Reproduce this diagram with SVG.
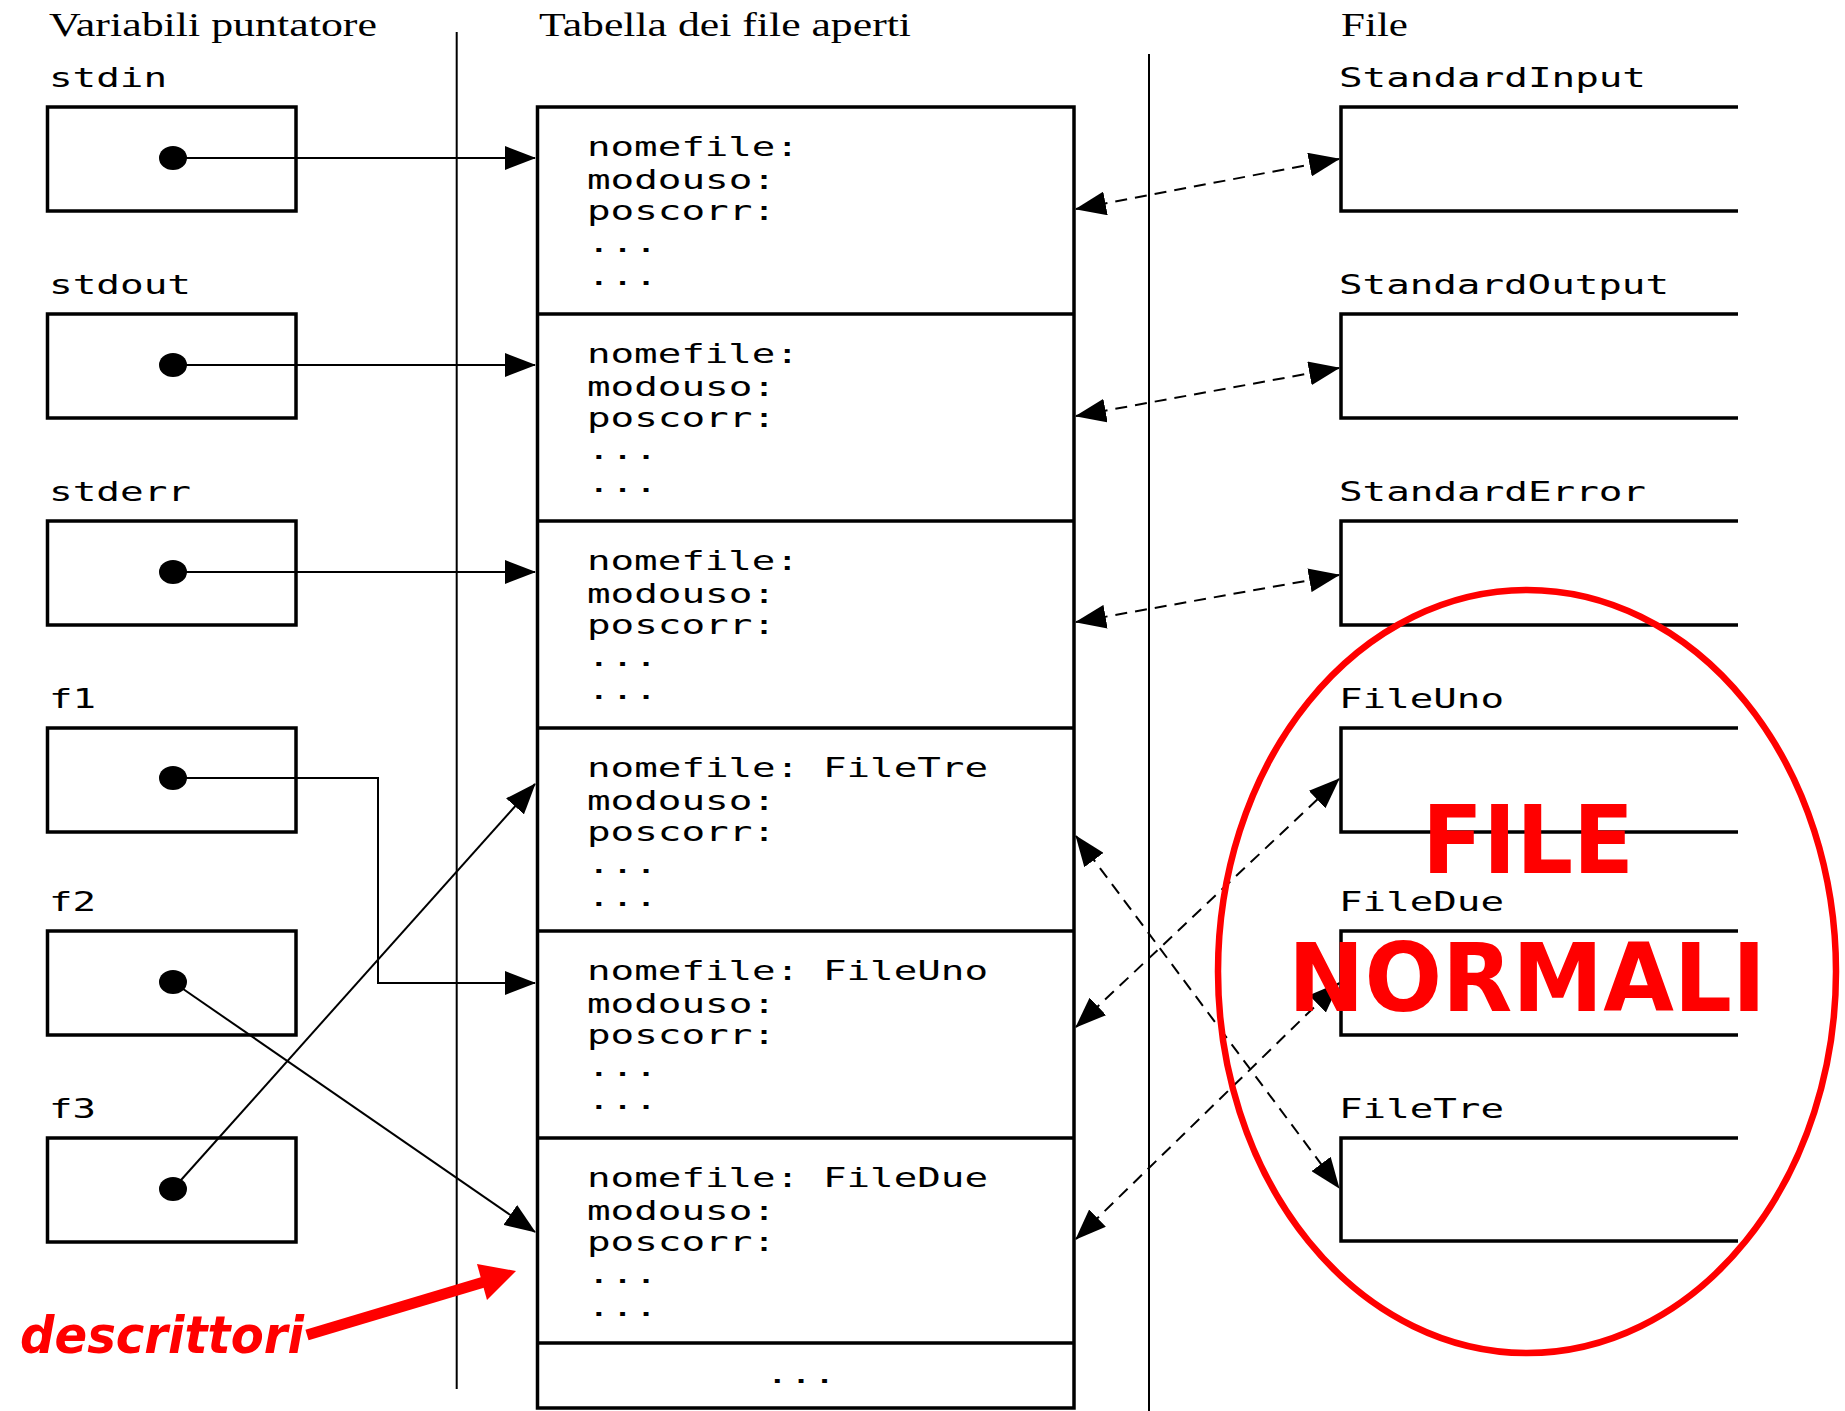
<svg xmlns="http://www.w3.org/2000/svg" width="1845" height="1411" viewBox="0 0 1845 1411">
<style>
.hdr{font-family:"Liberation Serif","Times New Roman",serif;font-size:34px;fill:#000}
.mono{font-family:"DejaVu Sans Mono","Liberation Mono",monospace;font-size:27px;fill:#000}
.box{fill:none;stroke:#000;stroke-width:3.5}
.sep{stroke:#000;stroke-width:2}
.con{fill:none;stroke:#000;stroke-width:2}
.dash{fill:none;stroke:#000;stroke-width:2;stroke-dasharray:12 8}
.red{font-family:"DejaVu Sans",Verdana,sans-serif;font-weight:bold;fill:#ff0000}
</style>
<defs>
<marker id="ah" viewBox="0 0 31 24" markerWidth="31" markerHeight="24" refX="30" refY="12" orient="auto-start-reverse" markerUnits="userSpaceOnUse">
<path d="M0,0 L31,12 L0,24 Z" fill="#000"/>
</marker>
</defs>
<rect width="1845" height="1411" fill="#fff"/>

<g id="headers">
<text class="hdr" x="49" y="36" textLength="328" lengthAdjust="spacingAndGlyphs">Variabili puntatore</text>
<text class="hdr" x="539" y="36" textLength="372" lengthAdjust="spacingAndGlyphs">Tabella dei file aperti</text>
<text class="hdr" x="1341" y="36" textLength="67" lengthAdjust="spacingAndGlyphs">File</text>
</g>

<g id="separators">
<line class="sep" x1="456.7" y1="32" x2="456.7" y2="1389"/>
<line class="sep" x1="1149" y1="54" x2="1149" y2="1411"/>
</g>

<g id="var-stdin">
<text class="mono" x="49" y="87" textLength="118" lengthAdjust="spacingAndGlyphs">stdin</text>
<rect class="box" x="47.5" y="107" width="248.5" height="104"/>
<ellipse cx="173" cy="158" rx="14" ry="12"/>
</g>
<g id="var-stdout">
<text class="mono" x="49" y="294" textLength="142" lengthAdjust="spacingAndGlyphs">stdout</text>
<rect class="box" x="47.5" y="314" width="248.5" height="104"/>
<ellipse cx="173" cy="365" rx="14" ry="12"/>
</g>
<g id="var-stderr">
<text class="mono" x="49" y="501" textLength="142" lengthAdjust="spacingAndGlyphs">stderr</text>
<rect class="box" x="47.5" y="521" width="248.5" height="104"/>
<ellipse cx="173" cy="572" rx="14" ry="12"/>
</g>
<g id="var-f1">
<text class="mono" x="49" y="708" textLength="47" lengthAdjust="spacingAndGlyphs">f1</text>
<rect class="box" x="47.5" y="728" width="248.5" height="104"/>
<ellipse cx="173" cy="778" rx="14" ry="12"/>
</g>
<g id="var-f2">
<text class="mono" x="49" y="911" textLength="47" lengthAdjust="spacingAndGlyphs">f2</text>
<rect class="box" x="47.5" y="931" width="248.5" height="104"/>
<ellipse cx="173" cy="982" rx="14" ry="12"/>
</g>
<g id="var-f3">
<text class="mono" x="49" y="1118" textLength="47" lengthAdjust="spacingAndGlyphs">f3</text>
<rect class="box" x="47.5" y="1138" width="248.5" height="104"/>
<ellipse cx="173" cy="1189" rx="14" ry="12"/>
</g>

<g id="table">
<rect class="box" x="537.5" y="107" width="536.5" height="1301"/>
<line class="box" x1="537.5" y1="314" x2="1074" y2="314"/>
<line class="box" x1="537.5" y1="521" x2="1074" y2="521"/>
<line class="box" x1="537.5" y1="728" x2="1074" y2="728"/>
<line class="box" x1="537.5" y1="931" x2="1074" y2="931"/>
<line class="box" x1="537.5" y1="1138" x2="1074" y2="1138"/>
<line class="box" x1="537.5" y1="1343" x2="1074" y2="1343"/>
</g>
<g id="row1">
<text class="mono" x="587" y="156" textLength="212" lengthAdjust="spacingAndGlyphs">nomefile:</text>
<text class="mono" x="587" y="189" textLength="189" lengthAdjust="spacingAndGlyphs">modouso:</text>
<text class="mono" x="587" y="220" textLength="189" lengthAdjust="spacingAndGlyphs">poscorr:</text>
<text class="mono" x="587" y="252" textLength="71" lengthAdjust="spacingAndGlyphs">...</text>
<text class="mono" x="587" y="285" textLength="71" lengthAdjust="spacingAndGlyphs">...</text>
</g>
<g id="row2">
<text class="mono" x="587" y="363" textLength="212" lengthAdjust="spacingAndGlyphs">nomefile:</text>
<text class="mono" x="587" y="396" textLength="189" lengthAdjust="spacingAndGlyphs">modouso:</text>
<text class="mono" x="587" y="427" textLength="189" lengthAdjust="spacingAndGlyphs">poscorr:</text>
<text class="mono" x="587" y="459" textLength="71" lengthAdjust="spacingAndGlyphs">...</text>
<text class="mono" x="587" y="492" textLength="71" lengthAdjust="spacingAndGlyphs">...</text>
</g>
<g id="row3">
<text class="mono" x="587" y="570" textLength="212" lengthAdjust="spacingAndGlyphs">nomefile:</text>
<text class="mono" x="587" y="603" textLength="189" lengthAdjust="spacingAndGlyphs">modouso:</text>
<text class="mono" x="587" y="634" textLength="189" lengthAdjust="spacingAndGlyphs">poscorr:</text>
<text class="mono" x="587" y="666" textLength="71" lengthAdjust="spacingAndGlyphs">...</text>
<text class="mono" x="587" y="699" textLength="71" lengthAdjust="spacingAndGlyphs">...</text>
</g>
<g id="row4">
<text class="mono" x="587" y="777" textLength="401" lengthAdjust="spacingAndGlyphs">nomefile: FileTre</text>
<text class="mono" x="587" y="810" textLength="189" lengthAdjust="spacingAndGlyphs">modouso:</text>
<text class="mono" x="587" y="841" textLength="189" lengthAdjust="spacingAndGlyphs">poscorr:</text>
<text class="mono" x="587" y="873" textLength="71" lengthAdjust="spacingAndGlyphs">...</text>
<text class="mono" x="587" y="906" textLength="71" lengthAdjust="spacingAndGlyphs">...</text>
</g>
<g id="row5">
<text class="mono" x="587" y="980" textLength="401" lengthAdjust="spacingAndGlyphs">nomefile: FileUno</text>
<text class="mono" x="587" y="1013" textLength="189" lengthAdjust="spacingAndGlyphs">modouso:</text>
<text class="mono" x="587" y="1044" textLength="189" lengthAdjust="spacingAndGlyphs">poscorr:</text>
<text class="mono" x="587" y="1076" textLength="71" lengthAdjust="spacingAndGlyphs">...</text>
<text class="mono" x="587" y="1109" textLength="71" lengthAdjust="spacingAndGlyphs">...</text>
</g>
<g id="row6">
<text class="mono" x="587" y="1187" textLength="401" lengthAdjust="spacingAndGlyphs">nomefile: FileDue</text>
<text class="mono" x="587" y="1220" textLength="189" lengthAdjust="spacingAndGlyphs">modouso:</text>
<text class="mono" x="587" y="1251" textLength="189" lengthAdjust="spacingAndGlyphs">poscorr:</text>
<text class="mono" x="587" y="1283" textLength="71" lengthAdjust="spacingAndGlyphs">...</text>
<text class="mono" x="587" y="1316" textLength="71" lengthAdjust="spacingAndGlyphs">...</text>
</g>
<g id="row7">
<text class="mono" x="801" y="1383" text-anchor="middle" textLength="71" lengthAdjust="spacingAndGlyphs">...</text>
</g>

<g id="file-StandardInput">
<text class="mono" x="1339" y="87" textLength="307" lengthAdjust="spacingAndGlyphs">StandardInput</text>
<path class="box" d="M1738,107 H1341 V211 H1738"/>
</g>
<g id="file-StandardOutput">
<text class="mono" x="1339" y="294" textLength="330" lengthAdjust="spacingAndGlyphs">StandardOutput</text>
<path class="box" d="M1738,314 H1341 V418 H1738"/>
</g>
<g id="file-StandardError">
<text class="mono" x="1339" y="501" textLength="307" lengthAdjust="spacingAndGlyphs">StandardError</text>
<path class="box" d="M1738,521 H1341 V625 H1738"/>
</g>
<g id="file-FileUno">
<text class="mono" x="1339" y="708" textLength="165" lengthAdjust="spacingAndGlyphs">FileUno</text>
<path class="box" d="M1738,728 H1341 V832 H1738"/>
</g>
<g id="file-FileDue">
<text class="mono" x="1339" y="911" textLength="165" lengthAdjust="spacingAndGlyphs">FileDue</text>
<path class="box" d="M1738,931 H1341 V1035 H1738"/>
</g>
<g id="file-FileTre">
<text class="mono" x="1339" y="1118" textLength="165" lengthAdjust="spacingAndGlyphs">FileTre</text>
<path class="box" d="M1738,1138 H1341 V1241 H1738"/>
</g>

<g id="connectors">
<line class="con" x1="173" y1="158" x2="535" y2="158" marker-end="url(#ah)"/>
<line class="con" x1="173" y1="365" x2="535" y2="365" marker-end="url(#ah)"/>
<line class="con" x1="173" y1="572" x2="535" y2="572" marker-end="url(#ah)"/>
<polyline class="con" points="173,778 378,778 378,983 535,983" marker-end="url(#ah)"/>
<line class="con" x1="173" y1="982" x2="535" y2="1232" marker-end="url(#ah)"/>
<line class="con" x1="173" y1="1189" x2="535" y2="784" marker-end="url(#ah)"/>
<line class="dash" x1="1076" y1="209" x2="1339" y2="159" marker-start="url(#ah)" marker-end="url(#ah)"/>
<line class="dash" x1="1076" y1="416" x2="1339" y2="368" marker-start="url(#ah)" marker-end="url(#ah)"/>
<line class="dash" x1="1076" y1="622" x2="1339" y2="575" marker-start="url(#ah)" marker-end="url(#ah)"/>
<line class="dash" x1="1076" y1="836" x2="1339" y2="1188" marker-start="url(#ah)" marker-end="url(#ah)"/>
<line class="dash" x1="1076" y1="1027" x2="1339" y2="779" marker-start="url(#ah)" marker-end="url(#ah)"/>
<line class="dash" x1="1076" y1="1239" x2="1339" y2="983" marker-start="url(#ah)" marker-end="url(#ah)"/>
</g>

<g id="file-normali">
<ellipse cx="1527" cy="971.5" rx="309" ry="381.5" fill="none" stroke="#ff0000" stroke-width="6.5"/>
<text class="red" x="1528" y="873" font-size="94" text-anchor="middle" textLength="212" lengthAdjust="spacingAndGlyphs">FILE</text>
<text class="red" x="1527" y="1011" font-size="94" text-anchor="middle" textLength="478" lengthAdjust="spacingAndGlyphs">NORMALI</text>
</g>

<g id="descrittori">
<text class="red" x="20" y="1353" font-size="52" font-style="italic" textLength="284" lengthAdjust="spacingAndGlyphs">descrittori</text>
<line x1="307" y1="1335" x2="484" y2="1282" stroke="#ff0000" stroke-width="11"/>
<polygon points="477,1264 516,1271 487,1300" fill="#ff0000"/>
</g>
</svg>
